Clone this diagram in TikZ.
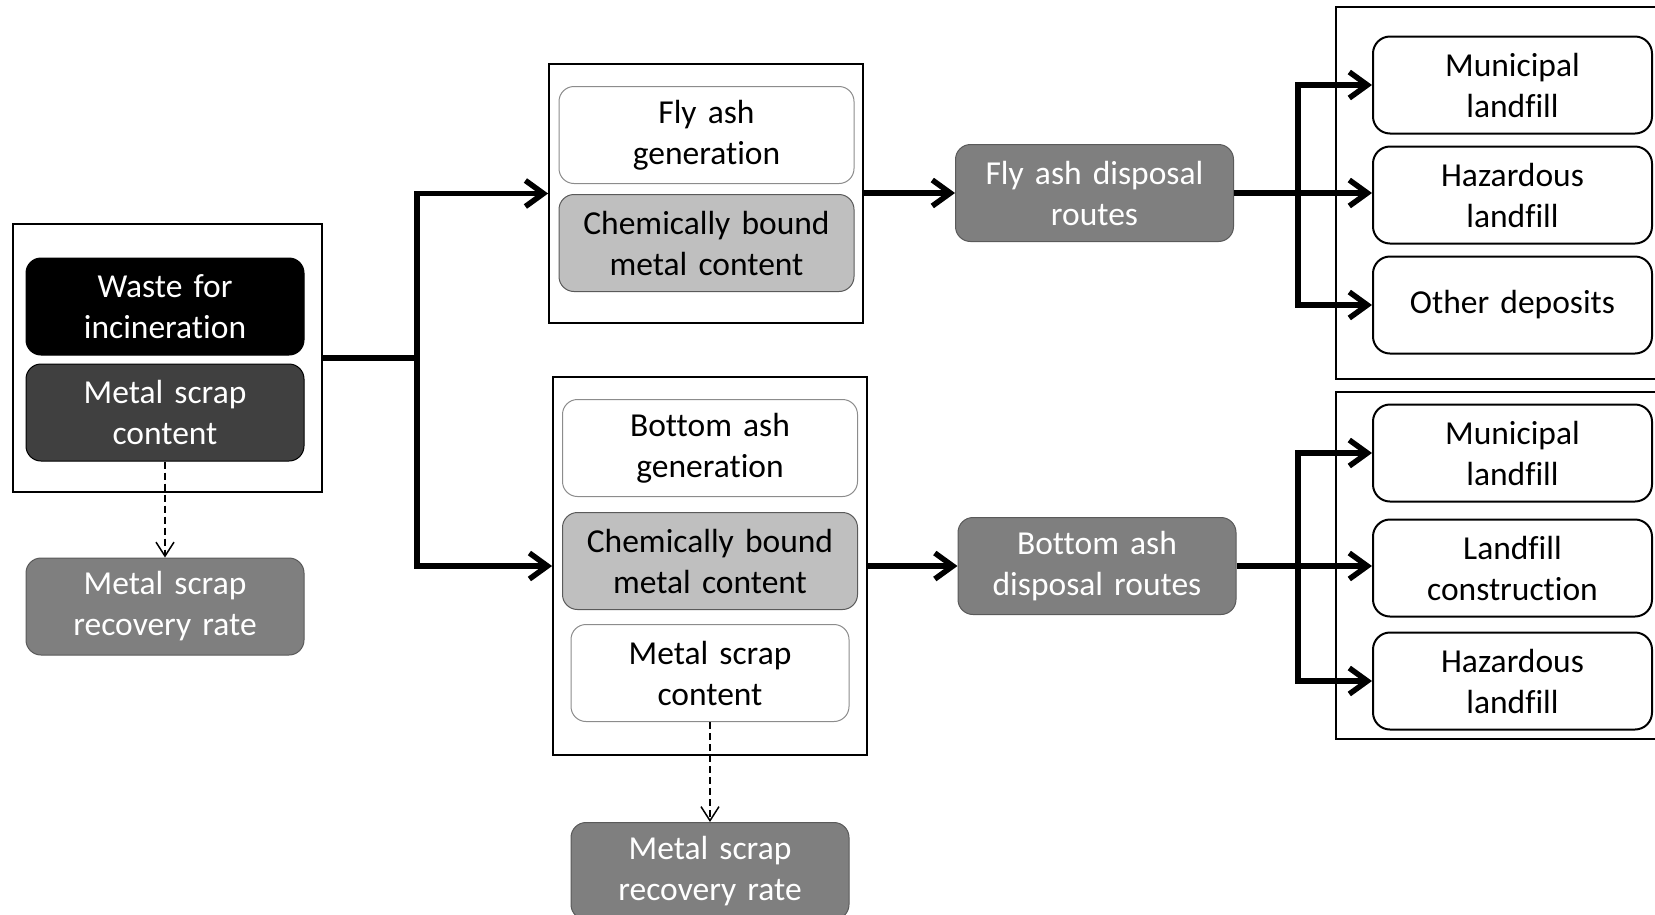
\documentclass[tikz,border=0pt]{standalone}
\usepackage{fontspec}
\setmainfont[Ligatures={NoCommon}]{Carlito}
\usetikzlibrary{positioning}
\usetikzlibrary{arrows.meta}

\definecolor{boundgray}{HTML}{BFBFBF}
\definecolor{routegray}{HTML}{7F7F7F}
\definecolor{scrapgray}{HTML}{404040}
\definecolor{thinedge}{HTML}{8C8C8C}
\definecolor{darkedge}{HTML}{5A5A5A}

\begin{document}
\begin{tikzpicture}[
        x=1pt, y=-1pt,
        every node/.style={font=\fontsize{33.5}{41}\selectfont, align=center, inner sep=0pt},
        container/.style={rectangle, draw=black, line width=1.8pt},
        stage/.style={rectangle, rounded corners=15pt, minimum height=97pt, text width=270pt, line width=1pt},
        plainbox/.style={stage, draw=thinedge, fill=white, minimum width=295pt},
        boundbox/.style={stage, draw=darkedge, fill=boundgray, minimum width=295pt},
        inputbox/.style={stage, draw=black, fill=black, text=white, minimum width=278pt},
        scrapbox/.style={stage, draw=black, fill=scrapgray, text=white, minimum width=278pt},
        routebox/.style={stage, draw=darkedge, fill=routegray, text=white, minimum width=278pt},
        sinkbox/.style={stage, rounded corners=17pt, draw=black, line width=2pt, fill=white, minimum width=279pt},
        flow/.style={line width=5.5pt},
        flowarrow/.style={flow, -{Straight Barb[length=18pt, width=26pt]}},
        recovery/.style={line width=1.5pt, dash pattern=on 7pt off 4pt, -{Straight Barb[length=14pt, width=18pt]}},
    ]

    \useasboundingbox (0,0) rectangle (1655,914);

    % containers
    \node[container, minimum width=309pt, minimum height=268pt] (LC)  at (167.5,358)  {};
    \node[container, minimum width=314pt, minimum height=259pt] (FC)  at (706,193.5)  {};
    \node[container, minimum width=314pt, minimum height=378pt] (BC)  at (710,566)    {};
    \node[container, minimum width=364pt, minimum height=372pt] (RC1) at (1518,193)   {};
    \node[container, minimum width=364pt, minimum height=347pt] (RC2) at (1518,565.5) {};

    % incineration input
    \node[inputbox]    (WFI)   at (165,306.5)          {Waste for\\incineration};
    \node[scrapbox]    (MSC)   [below=8pt of WFI]      {Metal scrap\\content};
    \node[routebox]    (MSR)   [below=96pt of MSC]     {Metal scrap\\recovery rate};

    % fly ash
    \node[plainbox]    (FAG)   at (706.5,135)          {Fly ash\\generation};
    \node[boundbox]    (CBM1)  [below=10pt of FAG]     {Chemically bound\\metal content};
    \node[routebox]    (FAD)   at (1094.5,193)         {Fly ash disposal\\routes};

    % bottom ash
    \node[plainbox]    (BAG)   at (710,448)            {Bottom ash\\generation};
    \node[boundbox]    (CBM2)  [below=15pt of BAG]     {Chemically bound\\metal content};
    \node[plainbox, minimum width=278pt] (MSC2) [below=14pt of CBM2] {Metal scrap\\content};
    \node[routebox]    (MSR2)  [below=100pt of MSC2]   {Metal scrap\\recovery rate};
    \node[routebox]    (BAD)   at (1097,566)           {Bottom ash\\disposal routes};

    % disposal sinks
    \node[sinkbox]     (MUN1)  at (1512.5,85)          {Municipal\\landfill};
    \node[sinkbox]     (HAZ1)  [below=11pt of MUN1]    {Hazardous\\landfill};
    \node[sinkbox]     (OTH)   [below=11pt of HAZ1]    {Other deposits};

    \node[sinkbox]     (MUN2)  at (1512.5,453)         {Municipal\\landfill};
    \node[sinkbox]     (CON)   [below=16pt of MUN2]    {Landfill\\construction};
    \node[sinkbox]     (HAZ2)  [below=14pt of CON]     {Hazardous\\landfill};

    \coordinate (J1) at (417,358);
    \coordinate (J2) at (1298,193);
    \coordinate (J3) at (1298,566);

    \draw[flow]      (LC.east) -- (J1);
    \draw[flowarrow] (J1) |- (FC.west);
    \draw[flowarrow] (J1) |- (BC.west |- BAD.west);

    \draw[flowarrow] (FC.east |- FAD.west) -- (FAD.west);
    \draw[flowarrow] (BC.east |- BAD.west) -- (BAD.west);

    \draw[flowarrow] (FAD.east) -- (FAD.east -| HAZ1.west);
    \draw[flowarrow] (J2) |- (MUN1.west);
    \draw[flowarrow] (J2) |- (OTH.west);

    \draw[flowarrow] (BAD.east) -- (BAD.east -| CON.west);
    \draw[flowarrow] (J3) |- (MUN2.west);
    \draw[flowarrow] (J3) |- (HAZ2.west);

    \draw[recovery]  (MSC.south)  -- (MSR.north);
    \draw[recovery]  (MSC2.south) -- (MSR2.north);
\end{tikzpicture}
\end{document}
